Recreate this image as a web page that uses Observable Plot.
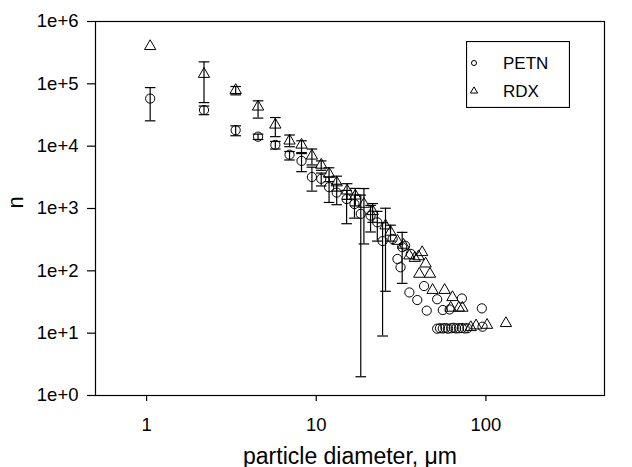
<!DOCTYPE html>
<html><head><meta charset="utf-8">
<script src="https://cdn.jsdelivr.net/npm/d3@7"></script>
<script src="https://cdn.jsdelivr.net/npm/@observablehq/plot@0.6"></script>
<style>
body{margin:0;background:#fff;font-family:"Liberation Sans",Arial,sans-serif;}
#wrap{position:relative;width:632px;height:467px;overflow:hidden;}
#legend{position:absolute;left:466px;top:41px;}
</style></head><body><div id="wrap"></div>
<script>
// PETN (circles): x, y, lower/upper error bar (null = no bar)
const petnX  = [1.05, 2.18, 3.35, 4.54, 5.74, 6.96, 8.19, 9.43, 10.7, 11.9, 13.2, 15.1, 16.8, 18.3, 20.9, 22.9, 24.6, 32.1,
                28.2, 30.1, 31.4, 33.4, 36.1, 35.4, 39.4, 43.2, 44.8, 51.6, 55.7, 61.1, 72.2, 94.6,
                51.6, 53.6, 55.7, 57.7, 59.8, 62.5, 64.6, 66.7, 69.4, 72.2, 75.0, 77.8, 95.5];
const petnY  = [58000, 38000, 18000, 14200, 10500, 7300, 5800, 3200, 3000, 2200, 1800, 1420, 1180, 820, 770, 600, 300, 240,
                325, 155, 114, 253, 187, 45, 34, 57, 23, 35, 23.5, 24, 36, 25,
                11.8, 12, 11.9, 12.1, 11.8, 12, 12.2, 11.9, 12, 12.1, 11.9, 12, 12.7];
const petnLo = [25500, 32000, 14700, 12800, 9000, 6000, 3900, 1900, 2300, 1250, 1150, 570, 700, 2, 420, 300, 9, 63];
const petnHi = [87000, 44000, 21200, 15600, 11900, 8200, 7600, 4600, 3700, 3200, 2450, 1950, 1650, 1640, 1120, 900, 590, 414];

// RDX (triangles)
const rdxX  = [1.05, 2.18, 3.35, 4.54, 5.74, 6.96, 8.19, 9.43, 10.7, 11.9, 13.2, 15.2, 17.0, 19.1, 21.5, 25.6, 27.4,
               30.1, 32.7, 35.4, 38.1, 40.1, 42.1, 44.1, 40.5, 46.8, 48.5, 57.1, 63.5, 62.0, 69.2, 72.7, 81.4, 87.5, 101.6, 131.2];
const rdxY  = [400000, 143000, 79000, 42800, 22000, 12200, 10500, 7000, 5000, 3600, 2600, 1930, 1600, 1180, 900, 530, 420,
               300, 260, 175, 160, 170, 198, 130, 89, 89, 49, 49, 37.6, 25.4, 25.4, 25.4, 12.4, 13.2, 13.5, 14.4];
const rdxLo = [null, 50000, 66600, 28200, 14200, 9800, 7900, 5000, 4100, 2700, 1900, 1400, 1100, 270, 600, 47, 300];
const rdxHi = [null, 225000, 90600, 53400, 28800, 15100, 12200, 9000, 5800, 4500, 3300, 2500, 2100, 2090, 1200, 1010, 540];

const xTicks = [1, 10, 100];
const yTicks = [1, 10, 100, 1000, 10000, 100000, 1000000];
const seriesNames = ["PETN", "RDX"];

const petn = petnX.map((x, i) => ({x, y: petnY[i], lo: petnLo[i] ?? null, hi: petnHi[i] ?? null}));
const rdx = rdxX.map((x, i) => ({x, y: rdxY[i], lo: rdxLo[i] ?? null, hi: rdxHi[i] ?? null}));
const bars = [...petn, ...rdx].filter(d => d.lo != null && d.hi != null);

const cap = {draw(ctx, size) { const w = Math.sqrt(size / Math.PI); ctx.moveTo(-w, 0); ctx.lineTo(w, 0); }};

const chart = Plot.plot({
  width: 632, height: 467,
  marginLeft: 95, marginRight: 28, marginTop: 21, marginBottom: 72,
  style: {fontFamily: "Liberation Sans, Arial, sans-serif", color: "#000", background: "#fff"},
  x: {type: "log", domain: [0.5, 500]},
  y: {type: "log", domain: [1, 1e6]},
  marks: [
    Plot.frame({stroke: "#000", strokeWidth: 1.2}),
    Plot.ruleY([yTicks[0]], {stroke: "#000", strokeWidth: 1.2, insetLeft: -6}),
    Plot.axisY({ticks: yTicks, tickFormat: d => "1e+" + Math.round(Math.log10(d)), tickSize: 8, tickPadding: 9, fontSize: 18.5, label: null, strokeWidth: 1.2}),
    Plot.axisX({ticks: xTicks, tickFormat: d => String(d), tickSize: 6, tickPadding: 16, fontSize: 18.5, label: null, strokeWidth: 1.2}),
    Plot.text(["particle diameter, μm"], {text: d => d, frameAnchor: "bottom", dy: 68, fontSize: 23, fill: "#000"}),
    Plot.text(["n"], {text: d => d, frameAnchor: "left", dx: -80, rotate: -90, fontSize: 22, fill: "#000"}),
    Plot.ruleX(bars, {x: "x", y1: "lo", y2: "hi", stroke: "#000", strokeWidth: 1.2}),
    Plot.dot(bars, {x: "x", y: "lo", symbol: cap, r: 5.3, stroke: "#000", strokeWidth: 1.2}),
    Plot.dot(bars, {x: "x", y: "hi", symbol: cap, r: 5.3, stroke: "#000", strokeWidth: 1.2}),
    Plot.dot(petn, {x: "x", y: "y", symbol: "circle", r: 4.6, stroke: "#000", fill: "none", strokeWidth: 1}),
    Plot.dot(rdx, {x: "x", y: "y", symbol: "triangle", r: 4.2, stroke: "#000", fill: "none", strokeWidth: 1})
  ]
});
document.getElementById("wrap").appendChild(chart);

// legend overlay (inside plot area, top right)
const lg = d3.select("#wrap").append("svg").attr("id", "legend")
  .attr("width", 104).attr("height", 67).style("font-family", "Liberation Sans, Arial, sans-serif");
lg.append("rect").attr("x", 0.5).attr("y", 0.5).attr("width", 103).attr("height", 66)
  .attr("fill", "#fff").attr("stroke", "#000").attr("stroke-width", 1.2);
lg.append("path").attr("d", d3.symbol(d3.symbolCircle, 20)()).attr("transform", "translate(8,22)")
  .attr("fill", "none").attr("stroke", "#000");
lg.append("path").attr("d", d3.symbol(d3.symbolTriangle, 22)()).attr("transform", "translate(8,50)")
  .attr("fill", "none").attr("stroke", "#000");
lg.selectAll("text.lab").data(seriesNames).join("text").attr("class", "lab")
  .attr("x", 37).attr("y", (d, i) => 28 + i * 28).attr("font-size", 17).text(d => d);
</script>
</body></html>
